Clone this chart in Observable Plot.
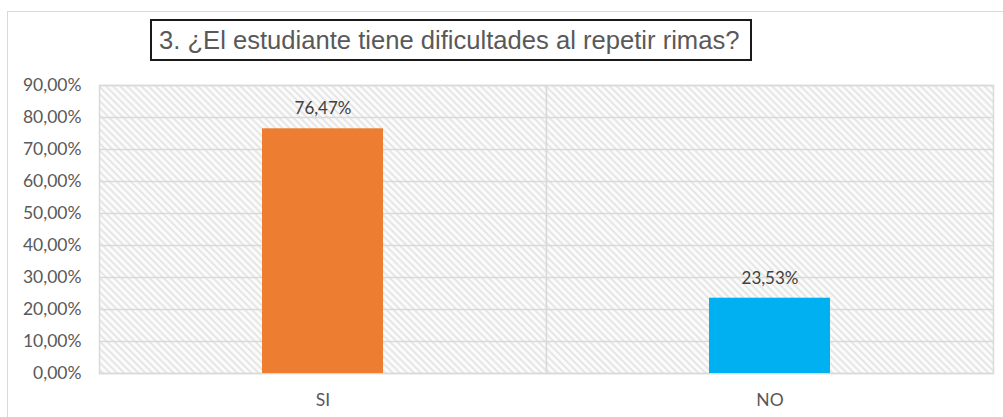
<!DOCTYPE html>
<html>
<head>
<meta charset="utf-8">
<script src="https://cdn.jsdelivr.net/npm/d3@7"></script>
<script src="https://cdn.jsdelivr.net/npm/@observablehq/plot@0.6"></script>
<style>
  html, body { margin: 0; padding: 0; background: #fff; }
  #wrap { position: relative; width: 1003px; height: 417px; overflow: hidden; }
  #outer { position: absolute; left: 7px; top: 11px; width: 1010px; height: 430px; border: 1px solid #d9d9d9; box-sizing: border-box; }
  #title { position: absolute; left: 150px; top: 19px; width: 602px; height: 42px; box-sizing: border-box;
    border: 2px solid #1a1a1a; background: #fff; font-family: "Liberation Sans", Arial, sans-serif;
    font-size: 25.6px; color: #595959; line-height: 38px; padding-left: 7px; white-space: nowrap; }
  #chart { position: absolute; left: 0; top: 0; }
</style>
</head>
<body>
<div id="wrap">
  <div id="outer"></div>
  <div id="chart"></div>
  <div id="title">3. ¿El estudiante tiene dificultades al repetir rimas?</div>
</div>
<script>
const categories = ["SI", "NO"];
const values = [0.7647, 0.2353];
const colors = ["#ED7D31", "#00B0F0"];
const yTicks = [0, 0.1, 0.2, 0.3, 0.4, 0.5, 0.6, 0.7, 0.8, 0.9];

const data = categories.map((c, i) => ({cat: c, value: values[i], color: colors[i]}));
const locale = d3.formatLocale({decimal: ",", thousands: ".", grouping: [3], currency: ["", "€"], percent: "%"});
const pct = locale.format(".2%");

const plot = Plot.plot({
  width: 1003,
  height: 417,
  marginLeft: 99,
  marginRight: 10,
  marginTop: 85,
  marginBottom: 44,
  style: {fontFamily: "Lato, 'Open Sans', sans-serif", fontSize: "17.5px", color: "#595959", background: "transparent"},
  fx: {domain: categories, padding: 0, axis: "bottom", label: null, tickSize: 0, tickPadding: 20},
  x: {domain: ["bar"], padding: 0.574, axis: null},
  y: {domain: [0, 0.9], ticks: yTicks, tickFormat: pct, tickSize: 0, tickPadding: 18, label: null},
  marks: [
    Plot.frame({fill: "url(#hatch)", stroke: "#d9d9d9", strokeWidth: 1.5}),
    Plot.gridY(yTicks, {stroke: "#d9d9d9", strokeOpacity: 1, strokeWidth: 1.5}),
    Plot.barY(data, {fx: "cat", x: () => "bar", y: "value", fill: "color"}),
    Plot.text(data, {fx: "cat", x: () => "bar", y: "value", text: d => pct(d.value), dy: -20, fill: "#404040", fontSize: 17})
  ]
});

const defs = d3.select(plot).insert("defs", ":first-child");
const pat = defs.append("pattern").attr("id", "hatch").attr("patternUnits", "userSpaceOnUse")
  .attr("width", 5).attr("height", 5).attr("patternTransform", "rotate(45)");
pat.append("rect").attr("width", 5).attr("height", 5).attr("fill", "#fbfbfb");
pat.append("rect").attr("width", 5).attr("height", 1.8).attr("fill", "#e4e4e4");

document.getElementById("chart").appendChild(plot);
</script>
</body>
</html>
